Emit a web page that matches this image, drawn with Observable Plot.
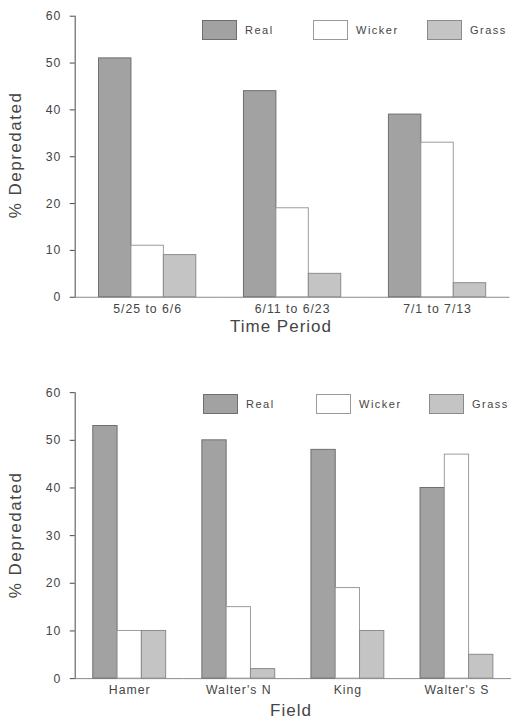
<!DOCTYPE html>
<html><head><meta charset="utf-8">
<script src="https://cdn.jsdelivr.net/npm/d3@7"></script>
<script src="https://cdn.jsdelivr.net/npm/@observablehq/plot@0.6"></script>
<style>
body{margin:0;background:#fff;overflow:hidden;font-family:"Liberation Sans",Arial,sans-serif;color:#454545}
#root{position:relative;width:511px;height:720px;overflow:hidden;background:#fff}
.chart{position:absolute;left:0}
.title{position:absolute;font-size:17px;letter-spacing:1px;white-space:nowrap;transform:translate(-50%,-50%)}
.ytitle{position:absolute;font-size:17px;letter-spacing:1.5px;white-space:nowrap;transform:translate(-50%,-50%) rotate(-90deg)}
.leg{position:absolute;display:flex;align-items:center;font-size:11px;letter-spacing:1.5px;white-space:nowrap}
.sw{width:35px;height:20px;box-sizing:border-box;border:1px solid #777;margin-right:8px}
</style>
</head><body><div id="root"></div>
<script>
// ---- data ----
const series = ["Real", "Wicker", "Grass"];
const periods = ["5/25 to 6/6", "6/11 to 6/23", "7/1 to 7/13"];
const periodReal = [51, 44, 39];
const periodWicker = [11, 19, 33];
const periodGrass = [9, 5, 3];
const fields = ["Hamer", "Walter's N", "King", "Walter's S"];
const fieldReal = [53, 50, 48, 40];
const fieldWicker = [10, 15, 19, 47];
const fieldGrass = [10, 2, 10, 5];
const yTicks = [0, 10, 20, 30, 40, 50, 60];

// ---- styles ----
const fills = {Real: "#a2a2a2", Wicker: "#ffffff", Grass: "#c4c4c4"};
const strokes = {Real: "#6e6e6e", Wicker: "#9a9a9a", Grass: "#8a8a8a"};

function rows(groups, vals) {
  const out = [];
  groups.forEach((g, i) => series.forEach((s, j) => out.push({group: g, series: s, value: vals[j][i]})));
  return out;
}

function chart(groups, vals, opt) {
  return Plot.plot({
    width: 520, height: opt.height,
    marginTop: opt.mt, marginBottom: opt.mb, marginLeft: 76, marginRight: opt.mr,
    style: {fontFamily: '"Liberation Sans", Arial, sans-serif', fontSize: "12.5px", letterSpacing: "1px", color: "#454545", background: "transparent"},
    fx: {domain: groups, paddingInner: 0, paddingOuter: 0, round: false, axis: "bottom", tickSize: 0, tickPadding: 7, label: null},
    x: {domain: series, paddingInner: 0, paddingOuter: opt.po, round: false, axis: null},
    y: {domain: [0, 60], ticks: yTicks, tickSize: 5, tickPadding: 9, line: true, label: null},
    color: {type: "identity"},
    marks: [
      Plot.ruleY([0], {stroke: "#888"}),
      Plot.barY(rows(groups, vals), {
        fx: "group", x: "series", y: "value",
        fill: d => fills[d.series], stroke: d => strokes[d.series], strokeWidth: 1, inset: 0
      })
    ]
  });
}

const root = document.getElementById("root");
const top1 = chart(periods, [periodReal, periodWicker, periodGrass], {height: 345, mt: 16, mb: 43, mr: 1.5, po: 0.735});
top1.classList.add("chart"); top1.style.top = "0px";
root.appendChild(top1);
const bot = chart(fields, [fieldReal, fieldWicker, fieldGrass], {height: 375, mt: 48, mb: 36, mr: 0, po: 0.745});
bot.classList.add("chart"); bot.style.top = "345px";
root.appendChild(bot);

function addText(cls, text, x, y) {
  const d = document.createElement("div");
  d.className = cls; d.textContent = text;
  d.style.left = x + "px"; d.style.top = y + "px";
  root.appendChild(d);
}
addText("ytitle", "% Depredated", 16, 155);
addText("ytitle", "% Depredated", 16, 535);
addText("title", "Time Period", 281, 327);
addText("title", "Field", 291, 711);

function legend(xs, y) {
  series.forEach((s, i) => {
    const d = document.createElement("div");
    d.className = "leg";
    d.style.left = xs[i] + "px"; d.style.top = y + "px";
    const sw = document.createElement("div");
    sw.className = "sw"; sw.style.background = fills[s]; sw.style.borderColor = strokes[s];
    d.appendChild(sw);
    d.appendChild(document.createTextNode(s));
    root.appendChild(d);
  });
}
legend([202, 313, 427], 20);
legend([203, 316, 429], 394);
</script>
</body></html>
